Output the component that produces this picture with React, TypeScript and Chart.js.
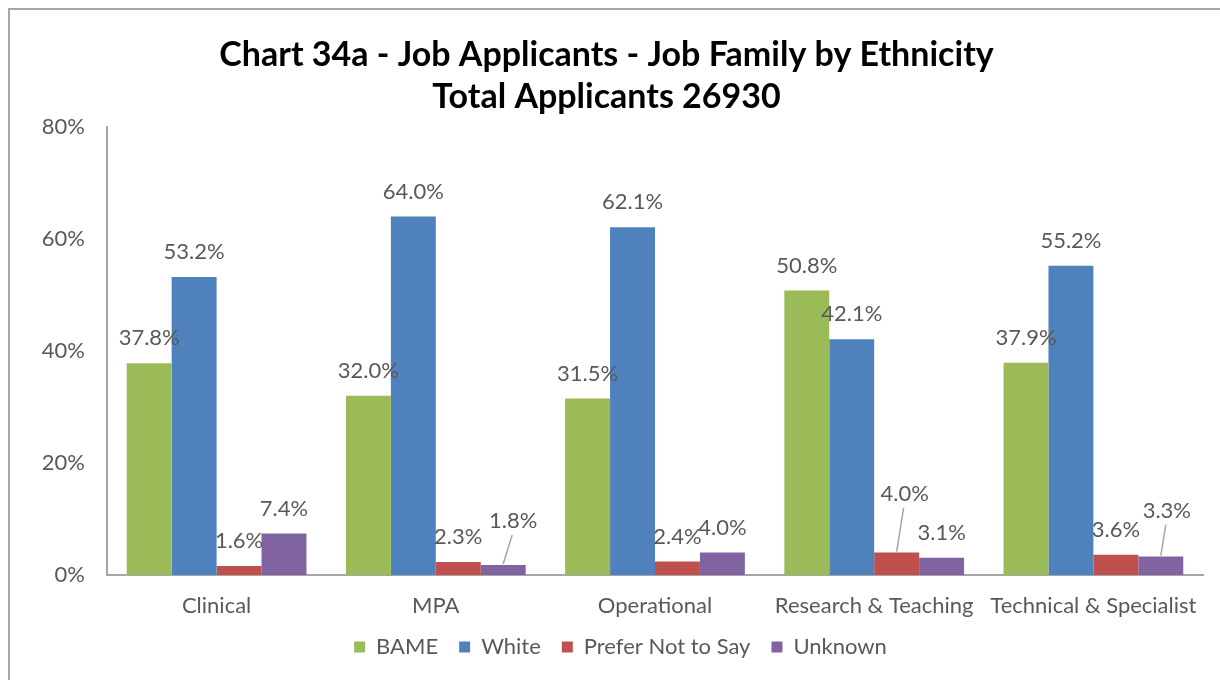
import React, { useEffect, useRef } from "react";
import { Chart, registerables } from "chart.js";

Chart.register(...registerables);

const categories = ["Clinical", "MPA", "Operational", "Research & Teaching", "Technical & Specialist"];
const bame = [37.8, 32.0, 31.5, 50.8, 37.9];
const white = [53.2, 64.0, 62.1, 42.1, 55.2];
const preferNot = [1.6, 2.3, 2.4, 4.0, 3.6];
const unknown = [7.4, 1.8, 4.0, 3.1, 3.3];
const yTicks = [0, 20, 40, 60, 80];
const titleLines = ["Chart 34a - Job Applicants - Job Family by Ethnicity", "Total Applicants 26930"];

// label nudges (dataset index, category index, dx, extra lift) drawn with a leader line
const labelNudges = [
  { ds: 3, i: 1, dx: 10, lift: 19 },
  { ds: 2, i: 3, dx: 8, lift: 34 },
  { ds: 3, i: 4, dx: 6, lift: 21 },
];

const FONT = "Lato, 'Open Sans', sans-serif";
const GRAY = "#595959";

const dataLabelPlugin = {
  id: "dataLabels",
  afterLayout(chart: any) {
    // legend sits slightly right of centre in the reference
    if (chart.legend) {
      chart.legend.left += 14;
      chart.legend.right += 14;
    }
  },
  afterDatasetsDraw(chart: any) {
    const ctx = chart.ctx;
    ctx.save();
    ctx.font = `22px ${FONT}`;
    ctx.fillStyle = GRAY;
    ctx.textAlign = "center";
    ctx.textBaseline = "middle";
    chart.data.datasets.forEach((ds: any, di: number) => {
      const meta = chart.getDatasetMeta(di);
      meta.data.forEach((el: any, i: number) => {
        const v = ds.data[i];
        const nudge = labelNudges.find((n) => n.ds === di && n.i === i);
        const dx = nudge ? nudge.dx : 0;
        const lift = nudge ? nudge.lift : 0;
        const lx = el.x + dx;
        const ly = el.y - 25 - lift;
        if (nudge) {
          ctx.strokeStyle = "#a6a6a6";
          ctx.lineWidth = 1.5;
          ctx.beginPath();
          ctx.moveTo(lx - 1, ly + 14);
          ctx.lineTo(el.x, el.y - 1);
          ctx.stroke();
        }
        ctx.fillText(v.toFixed(1) + "%", lx, ly);
      });
    });
    ctx.restore();
  },
};

export default function App() {
  const ref = useRef<HTMLCanvasElement | null>(null);
  useEffect(() => {
    if (!ref.current) return;
    const chart = new Chart(ref.current, {
      type: "bar",
      data: {
        labels: categories,
        datasets: [
          { label: "BAME", data: bame, backgroundColor: "#9BBB59" },
          { label: "White", data: white, backgroundColor: "#4F81BD" },
          { label: "Prefer Not to Say", data: preferNot, backgroundColor: "#C0504D" },
          { label: "Unknown", data: unknown, backgroundColor: "#8064A2" },
        ],
      },
      options: {
        responsive: false,
        animation: false,
        layout: { padding: { left: 0, right: 17, top: 0, bottom: 12 } },
        datasets: { bar: { categoryPercentage: 0.82, barPercentage: 1.0 } },
        scales: {
          x: {
            afterFit: (scale: any) => {
              scale.height = 40;
              scale._computeLabelArea = () => undefined;
            },
            grid: { display: false, drawTicks: false },
            border: { display: true, color: "#a6a6a6", width: 2 },
            ticks: { color: GRAY, font: { size: 22, family: FONT, lineHeight: 1 }, padding: 20, maxRotation: 0 },
          },
          y: {
            min: 0,
            max: 80,
            afterBuildTicks: (scale: any) => {
              scale.ticks = yTicks.map((v) => ({ value: v }));
            },
            afterFit: (scale: any) => {
              scale.width = 97;
            },
            grid: { display: false, drawTicks: false },
            border: { display: true, color: "#a6a6a6", width: 2 },
            ticks: {
              color: GRAY,
              font: { size: 22, family: FONT },
              padding: 22,
              callback: (v: any) => v + "%",
            },
          },
        },
        plugins: {
          title: {
            display: true,
            text: titleLines,
            color: "#000",
            font: { size: 34, weight: "bold", family: FONT, lineHeight: 1.235 },
            padding: { top: 24, bottom: 9 },
          },
          legend: {
            position: "bottom",
            labels: {
              color: GRAY,
              font: { size: 22, family: FONT },
              boxWidth: 11,
              boxHeight: 11,
              padding: 21,
            },
          },
          tooltip: { enabled: false },
        },
      } as any,
      plugins: [dataLabelPlugin],
    });
    return () => chart.destroy();
  }, []);
  return (
    <div
      style={{
        position: "fixed",
        left: 8,
        top: 8,
        width: 1230,
        height: 690,
        border: "2px solid #a6a6a6",
        background: "#fff",
        boxSizing: "border-box",
      }}
    >
      <canvas ref={ref} width={1210} height={670} style={{ display: "block", width: 1210, height: 670 }} />
    </div>
  );
}
